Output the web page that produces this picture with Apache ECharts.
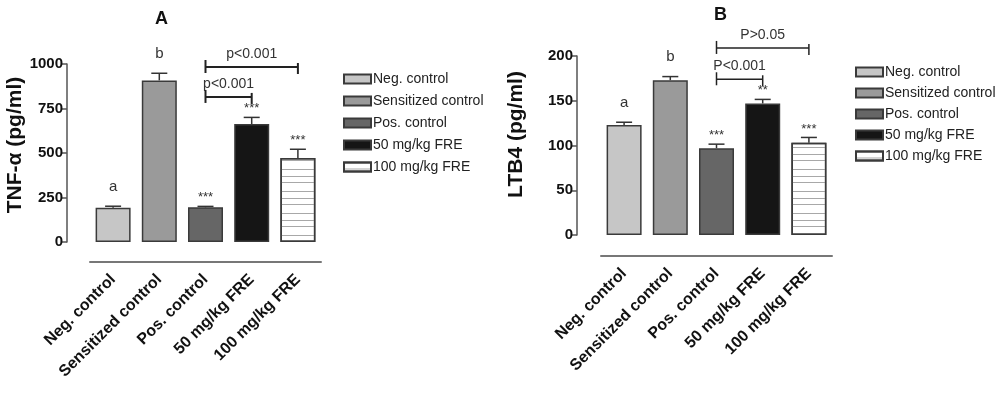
<!DOCTYPE html>
<html lang="en">
<head>
    <meta charset="UTF-8">
    <title>TNF-a / LTB4</title>
    <script src="https://cdn.jsdelivr.net/npm/echarts@6/dist/echarts.min.js"></script>
    <style>
        html, body { margin: 0; padding: 0; background: #fff; }
        #container { width: 1000px; height: 400px; }
    </style>
</head>
<body>
<div id="container"></div>
<script>
    var groups = ['Neg. control', 'Sensitized control', 'Pos. control', '50 mg/kg FRE', '100 mg/kg FRE'];

    // panel A: TNF-alpha
    var tnfMean = [193, 908, 195, 663, 472];
    var tnfErr = [8, 40, 5, 37, 49];
    var tnfMarks = ['a', 'b', '***', '***', '***'];
    // [from group, to group, bracket height, text]
    var tnfBrackets = [[2, 4, 983, 'p<0.001'], [2, 3, 815, 'p<0.001']];

    // panel B: LTB4
    var ltbMean = [123, 173, 97, 147, 103];
    var ltbErr = [3, 4, 4.5, 4.5, 6];
    var ltbMarks = ['a', 'b', '***', '**', '***'];
    var ltbBrackets = [[2, 4, 209, 'P>0.05'], [2, 3, 174, 'P<0.001']];

    var fills = ['#c6c6c6', '#9a9a9a', '#666666', '#151515', '#ffffff'];
    var font = '"Liberation Sans", Arial, sans-serif';

    var chart = echarts.init(document.getElementById('container'));

    function barSeries(grid, means) {
        return groups.map(function (name, i) {
            var d = means.map(function (v, j) { return j === i ? v : '-'; });
            var style = {color: fills[i], borderColor: '#3a3a3a', borderWidth: 1.5};
            if (i === 4) {
                style.decal = {
                    symbol: 'rect', symbolSize: 1, rotation: 0,
                    dashArrayX: [1, 0], dashArrayY: [1, 5, 1, 8, 1, 6],
                    color: '#a8a8a8'
                };
            }
            return {
                type: 'bar', name: name, xAxisIndex: grid, yAxisIndex: grid,
                stack: 'g' + grid, barWidth: 35, data: d, itemStyle: style,
                emphasis: {disabled: true}
            };
        });
    }

    function errSeries(grid, means, errs, marks) {
        return {
            type: 'custom', xAxisIndex: grid, yAxisIndex: grid, z: 5, silent: true,
            data: means.map(function (v, i) { return [i, v, errs[i]]; }),
            renderItem: function (params, api) {
                var x = api.value(0), v = api.value(1), e = api.value(2);
                var b = api.coord([x, v]);
                var t = api.coord([x, v + e]);
                var mark = marks[params.dataIndex];
                var isStar = mark.charAt(0) === '*';
                return {
                    type: 'group',
                    children: [
                        {type: 'line', shape: {x1: b[0], y1: b[1], x2: t[0], y2: t[1]},
                            style: {stroke: '#333', lineWidth: 1.5}},
                        {type: 'line', shape: {x1: t[0] - 8, y1: t[1], x2: t[0] + 8, y2: t[1]},
                            style: {stroke: '#333', lineWidth: 1.5}},
                        {type: 'text', x: t[0], y: t[1] - (isStar ? 2 : 12),
                            style: {text: mark, textAlign: 'center', textVerticalAlign: 'bottom',
                                font: (isStar ? '13px ' : '15px ') + font, fill: '#333'}}
                    ]
                };
            }
        };
    }

    function bracketSeries(grid, list, lw) {
        return {
            type: 'custom', xAxisIndex: grid, yAxisIndex: grid, z: 6, silent: true, clip: false,
            data: list.map(function (b) { return [b[0], b[1], b[2]]; }),
            renderItem: function (params, api) {
                var p1 = api.coord([api.value(0), api.value(2)]);
                var p2 = api.coord([api.value(1), api.value(2)]);
                return {
                    type: 'group',
                    children: [
                        {type: 'line', shape: {x1: p1[0], y1: p1[1], x2: p2[0], y2: p2[1]},
                            style: {stroke: '#222', lineWidth: lw}},
                        {type: 'line', shape: {x1: p1[0], y1: p1[1] - 7, x2: p1[0], y2: p1[1] + 6},
                            style: {stroke: '#222', lineWidth: lw}},
                        {type: 'line', shape: {x1: p2[0], y1: p2[1] - 4, x2: p2[0], y2: p2[1] + 7},
                            style: {stroke: '#222', lineWidth: lw}},
                        {type: 'text', x: (p1[0] + p2[0]) / 2, y: p1[1] - 6,
                            style: {text: list[params.dataIndex][3], textAlign: 'center',
                                textVerticalAlign: 'bottom', font: '14px ' + font, fill: '#333'}}
                    ]
                };
            }
        };
    }

    function xAxis(grid, offset) {
        return {
            type: 'category', gridIndex: grid, data: groups, offset: offset,
            axisLine: {onZero: false, lineStyle: {color: '#777', width: 2}},
            axisTick: {show: false},
            axisLabel: {rotate: 45, margin: 15, color: '#111', fontWeight: 'bold',
                fontSize: 16, fontFamily: font, interval: 0}
        };
    }

    function yAxis(grid, max, interval, name, offset, gap, lift) {
        return {
            type: 'value', gridIndex: grid, min: 0, max: max, interval: interval, offset: offset,
            name: name, nameLocation: 'middle', nameGap: gap,
            nameTextStyle: {fontSize: 21, fontWeight: 'bold', color: '#111', fontFamily: font,
                padding: [0, 0, 0, lift]},
            splitLine: {show: false},
            axisLine: {show: true, lineStyle: {color: '#555', width: 1.5}},
            axisTick: {show: true, length: 5, lineStyle: {color: '#555', width: 1.5}},
            axisLabel: {color: '#111', fontWeight: 'bold', fontSize: 15, fontFamily: font, margin: 4,
                formatter: function (v) { return String(v); }}
        };
    }

    function legend(left, top, gap) {
        return {
            orient: 'vertical', left: left, top: top, data: groups,
            itemWidth: 27, itemHeight: 9, itemGap: gap, icon: 'rect',
            selectedMode: false,
            textStyle: {fontSize: 14, color: '#222', fontFamily: font, padding: [0, 0, 0, -3]}
        };
    }

    var option = {
        backgroundColor: '#fff',
        animation: false,
        title: [
            {text: 'A', left: 150, top: 5,
                textStyle: {fontSize: 18, fontWeight: 'bold', color: '#111', fontFamily: font}},
            {text: 'B', left: 709, top: 1,
                textStyle: {fontSize: 18, fontWeight: 'bold', color: '#111', fontFamily: font}}
        ],
        legend: [legend(338, 67, 8), legend(850, 60, 7)],
        grid: [
            {left: 90, top: 64, width: 231, height: 178},
            {left: 601, top: 56, width: 231, height: 179}
        ],
        xAxis: [xAxis(0, 20), xAxis(1, 21)],
        yAxis: [
            yAxis(0, 1000, 250, 'TNF-\u03b1 (pg/ml)', 23, 37, 16),
            yAxis(1, 200, 50, 'LTB4 (pg/ml)', 24, 50, 22)
        ],
        series: [].concat(
            barSeries(0, tnfMean),
            barSeries(1, ltbMean),
            [errSeries(0, tnfMean, tnfErr, tnfMarks),
             errSeries(1, ltbMean, ltbErr, ltbMarks),
             bracketSeries(0, tnfBrackets, 2),
             bracketSeries(1, ltbBrackets, 1.5)]
        )
    };

    chart.setOption(option);
</script>
</body>
</html>
